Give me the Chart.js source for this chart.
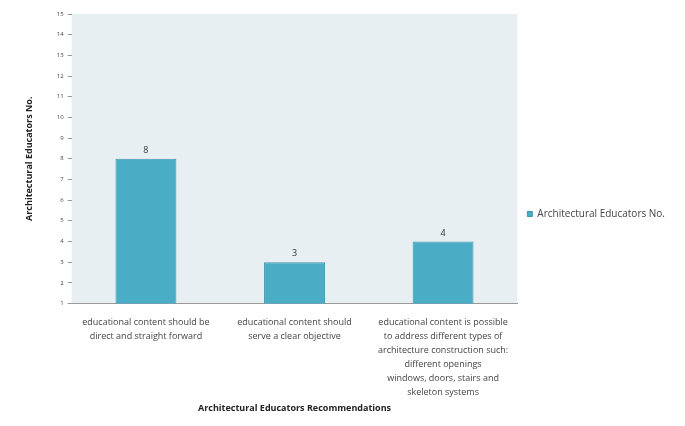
<!DOCTYPE html>
<html>
<head>
<meta charset="utf-8">
<script src="https://cdn.jsdelivr.net/npm/chart.js@4"></script>
<style>
  body { margin: 0; background: #fff; }
  #wrap { width: 685px; height: 426px; }
</style>
</head>
<body>
<div id="wrap"><canvas id="myChart"></canvas></div>
<script>
const categorias = [
    ["educational content should be", "direct and straight forward"],
    ["educational content should", "serve a clear objective"],
    ["educational content is possible", "to address different types of", "architecture construction such:", "different openings", "windows, doors, stairs and", "skeleton systems"]
];
const valores = [8, 3, 4];
const nombreSerie = "Architectural Educators No.";
const tituloX = "Architectural Educators Recommendations";
const tituloY = "Architectural Educators No.";

// fondo del area de graficos
const fondoPlot = {
    id: 'fondoPlot',
    beforeDraw: (chart) => {
        const { ctx, chartArea } = chart;
        ctx.save();
        ctx.fillStyle = '#e8eff3';
        ctx.fillRect(chartArea.left, chartArea.top, chartArea.right - chartArea.left, chartArea.bottom - chartArea.top);
        ctx.restore();
    }
};

// valores encima de las barras
const etiquetas = {
    id: 'etiquetas',
    afterDatasetsDraw: (chart) => {
        const ctx = chart.ctx;
        ctx.save();
        ctx.font = '9px "Open Sans"';
        ctx.fillStyle = '#333';
        ctx.textAlign = 'center';
        ctx.textBaseline = 'bottom';
        chart.getDatasetMeta(0).data.forEach((bar, i) => {
            ctx.fillText(chart.data.datasets[0].data[i], bar.x, bar.y - 4);
        });
        ctx.restore();
    }
};

const ctx = document.getElementById('myChart').getContext('2d');
const myChart = new Chart(ctx, {
    type: 'bar',
    data: {
        labels: categorias,
        datasets: [{
            label: nombreSerie,
            data: valores,
            backgroundColor: '#4bacc6',
            borderColor: '#3d96ad',
            borderWidth: 1,
            barPercentage: 0.41,
            categoryPercentage: 1
        }]
    },
    options: {
        responsive: true,
        maintainAspectRatio: false,
        animation: false,
        layout: { padding: { left: 20, top: 14, right: 10, bottom: 12 } },
        plugins: {
            legend: {
                position: 'right',
                labels: {
                    font: { family: '"Open Sans"', size: 10 },
                    color: '#444',
                    boxWidth: 5,
                    boxHeight: 5,
                    padding: 10
                }
            },
            tooltip: { enabled: false }
        },
        scales: {
            x: {
                grid: { display: false },
                border: { color: '#9a9a9a', width: 1 },
                ticks: {
                    font: { family: '"Open Sans"', size: 9, lineHeight: 1.55 },
                    color: '#444',
                    maxRotation: 0,
                    autoSkip: false,
                    padding: 4
                },
                title: {
                    display: true,
                    text: tituloX,
                    font: { family: '"Open Sans"', size: 9, weight: 'bold' },
                    color: '#222',
                    padding: { top: 0, bottom: 0 }
                }
            },
            y: {
                min: 1,
                max: 15,
                border: { display: false },
                grid: { drawOnChartArea: false, tickLength: 4, color: '#999' },
                ticks: {
                    stepSize: 1,
                    font: { family: '"Open Sans"', size: 6 },
                    color: '#444',
                    padding: 4
                },
                title: {
                    display: true,
                    text: tituloY,
                    font: { family: '"Open Sans"', size: 9, weight: 'bold' },
                    color: '#222',
                    padding: { bottom: 18 }
                }
            }
        }
    },
    plugins: [fondoPlot, etiquetas]
});
</script>
</body>
</html>
